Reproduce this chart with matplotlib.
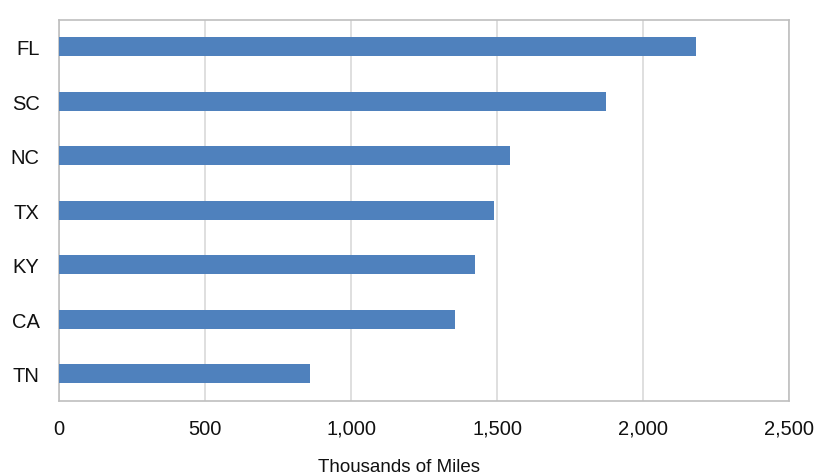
import matplotlib
matplotlib.use("Agg")
import matplotlib.pyplot as plt
from matplotlib.ticker import FuncFormatter

plt.rcParams['font.family'] = ['Liberation Sans', 'DejaVu Sans']

states = ["FL", "SC", "NC", "TX", "KY", "CA", "TN"]
miles = [2182, 1873, 1545, 1489, 1425, 1357, 860]  # thousands of miles
xticks = [0, 500, 1000, 1500, 2000, 2500]

barcolor = '#4F81BD'
gridcolor = '#d9d9d9'
edgecolor = '#bfbfbf'

fig = plt.figure(figsize=(8.17, 4.77), dpi=100)
ax = fig.add_axes([0.0722, 0.1579, 0.8939, 0.7987])

ypos = list(range(len(states)))
ax.barh(ypos, miles, height=0.35, color=barcolor, zorder=3)
ax.set_ylim(len(states) - 0.5, -0.5)
ax.set_xlim(0, 2500)
ax.set_yticks(ypos)
ax.set_yticklabels(states)
ax.set_xticks(xticks)
ax.xaxis.set_major_formatter(FuncFormatter(lambda v, p: f"{int(v):,}"))

ax.grid(axis='x', color=gridcolor, linewidth=1.2, zorder=0)
ax.tick_params(axis='both', length=0, labelsize=14.5, colors='#111111')
ax.tick_params(axis='y', pad=14)
ax.tick_params(axis='x', pad=13)
for s in ax.spines.values():
    s.set_color(edgecolor)
    s.set_linewidth(1.2)

ax.set_xlabel("Thousands of Miles", fontsize=13.5, color='#111111')
ax.xaxis.set_label_coords(0.466, -0.151)

fig.savefig("out.png", dpi=100, facecolor='white')
